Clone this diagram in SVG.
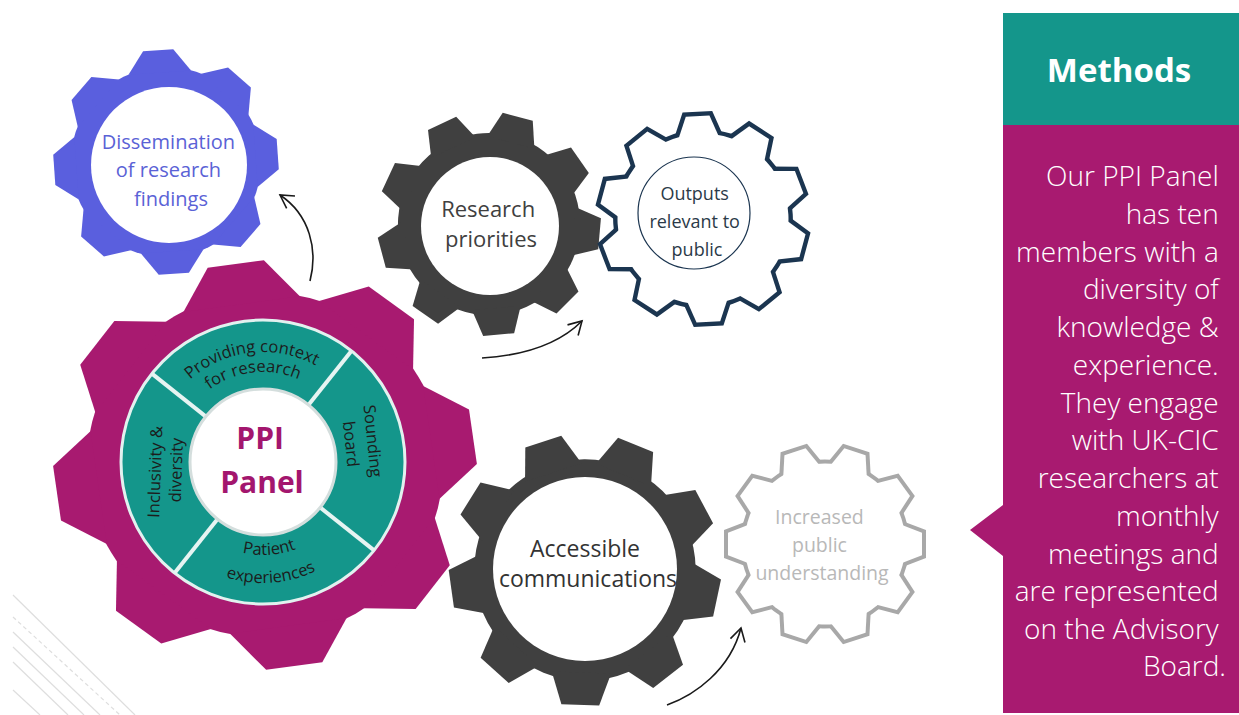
<svg xmlns="http://www.w3.org/2000/svg" width="1239" height="715" viewBox="0 0 1239 715">
<style>
  .f { font-family: "Open Sans", "Noto Sans", "DejaVu Sans", sans-serif; }
  .mid { text-anchor: middle; }
  .seg { font-size: 16.5px; fill: #1c1c1c; }
  .panel { font-size: 28px; fill: #ffffff; text-anchor: end; font-weight: 300; }
  .arrow { fill: none; stroke: #1a1a1a; stroke-width: 1.6; marker-end: url(#ah); }
  .deco { stroke: #dedede; stroke-width: 1.2; fill: none; }
  .divider { stroke: #e6f4f2; stroke-width: 4; }
</style>
<defs>
  <polygon id="t8" points="-28,-80 -13.5,-100 13.5,-100 28,-80"/>
  <g id="gear8">
    <circle r="85"/>
    <use href="#t8"/>
    <use href="#t8" transform="rotate(45)"/>
    <use href="#t8" transform="rotate(90)"/>
    <use href="#t8" transform="rotate(135)"/>
    <use href="#t8" transform="rotate(180)"/>
    <use href="#t8" transform="rotate(225)"/>
    <use href="#t8" transform="rotate(270)"/>
    <use href="#t8" transform="rotate(315)"/>
  </g>
  <polygon id="t9" points="-22,-76 -14,-100 14,-100 22,-76"/>
  <g id="gear9">
    <circle r="82"/>
    <use href="#t9"/>
    <use href="#t9" transform="rotate(40)"/>
    <use href="#t9" transform="rotate(80)"/>
    <use href="#t9" transform="rotate(120)"/>
    <use href="#t9" transform="rotate(160)"/>
    <use href="#t9" transform="rotate(200)"/>
    <use href="#t9" transform="rotate(240)"/>
    <use href="#t9" transform="rotate(280)"/>
    <use href="#t9" transform="rotate(320)"/>
  </g>
  <polygon id="t10" points="-20,-78 -11.5,-100 11.5,-100 20,-78"/>
  <g id="gear10">
    <circle r="83"/>
    <use href="#t10"/>
    <use href="#t10" transform="rotate(36)"/>
    <use href="#t10" transform="rotate(72)"/>
    <use href="#t10" transform="rotate(108)"/>
    <use href="#t10" transform="rotate(144)"/>
    <use href="#t10" transform="rotate(180)"/>
    <use href="#t10" transform="rotate(216)"/>
    <use href="#t10" transform="rotate(252)"/>
    <use href="#t10" transform="rotate(288)"/>
    <use href="#t10" transform="rotate(324)"/>
  </g>
  <path id="arcTop1" d="M171.3,401.3 A110,110 0 0 1 338.7,382.2"/>
  <path id="arcTop2" d="M187.9,412.3 A90,90 0 0 1 325,396.7"/>
  <path id="arcBot1" d="M196.1,526.6 A93,93 0 0 0 338.2,516.7"/>
  <path id="arcBot2" d="M176,546.1 A121,121 0 0 0 360.9,533.1"/>
  <marker id="ah" viewBox="-15 -10 18 20" refX="0" refY="0" markerWidth="18" markerHeight="20" markerUnits="userSpaceOnUse" orient="auto">
    <path d="M-13,-7.5 L0,0 L-13,7.5" fill="none" stroke="#1a1a1a" stroke-width="1.6"/>
  </marker>
</defs>

<rect width="1239" height="715" fill="#ffffff"/>

<g id="decoration">
  <line class="deco" x1="13" y1="595" x2="135" y2="715"/>
  <line class="deco" x1="13" y1="617" x2="120" y2="715" stroke-dasharray="4 3"/>
  <line class="deco" x1="13" y1="632" x2="100" y2="715"/>
  <line class="deco" x1="13" y1="647" x2="84" y2="715"/>
  <line class="deco" x1="13" y1="662" x2="68" y2="715"/>
  <line class="deco" x1="13" y1="690" x2="40" y2="715"/>
</g>

<g id="node-dissemination">
  <use href="#gear8" transform="translate(166,162) rotate(-4) scale(1.12)" fill="#5a5fde"/>
  <circle cx="169" cy="165" r="78" fill="#ffffff"/>
  <text class="f mid" font-size="20" fill="#5a62d6">
    <tspan x="171" y="149">Dissemination</tspan>
    <tspan x="171" y="177">of research</tspan>
    <tspan x="171" y="206">findings</tspan>
  </text>
</g>

<g id="node-ppi-panel">
  <use href="#gear8" transform="translate(265,465) scale(2.1,2.03) rotate(-8)" fill="#a81a70"/>
  <circle cx="263" cy="462" r="142" fill="#14968b" stroke="#e2f1ef" stroke-width="3"/>
  <line class="divider" x1="308.4" y1="404.9" x2="351.4" y2="350.9"/>
  <line class="divider" x1="320.1" y1="507.4" x2="374.1" y2="550.4"/>
  <line class="divider" x1="217.6" y1="519.1" x2="174.6" y2="573.1"/>
  <line class="divider" x1="205.9" y1="416.6" x2="151.9" y2="373.6"/>
  <circle cx="263" cy="462" r="73" fill="#ffffff" stroke="#d4dedd" stroke-width="3"/>
  <text class="f mid" font-size="30" font-weight="bold" fill="#a3166e">
    <tspan x="264" y="449">PPI</tspan>
    <tspan x="262" y="493">Panel</tspan>
  </text>
  <text class="f seg"><textPath href="#arcTop1" startOffset="50%" text-anchor="middle">Providing context</textPath><textPath href="#arcTop2" startOffset="50%" text-anchor="middle">for research</textPath></text>
  <text class="f seg"><textPath href="#arcBot1" startOffset="50%" text-anchor="middle">Patient</textPath><textPath href="#arcBot2" startOffset="50%" text-anchor="middle">experiences</textPath></text>
  <text class="f seg mid" transform="translate(373,441) rotate(84)" dy="0.35em">Sounding</text>
  <text class="f seg mid" transform="translate(351,444) rotate(84)" dy="0.35em">board</text>
  <text class="f seg mid" transform="translate(155,472) rotate(-88)" dy="0.35em">Inclusivity &amp;</text>
  <text class="f seg mid" transform="translate(176,470) rotate(-88)" dy="0.35em">diversity</text>
</g>

<g id="node-research-priorities">
  <use href="#gear9" transform="translate(489,224) rotate(15) scale(1.11)" fill="#404040"/>
  <circle cx="490" cy="226" r="69" fill="#ffffff"/>
  <text class="f mid" font-size="22" fill="#404040">
    <tspan x="491" y="217">Research</tspan>
    <tspan x="491" y="247">priorities</tspan>
  </text>
</g>

<g id="node-outputs">
  <g transform="translate(703,219) rotate(-3) scale(1.03)">
    <use href="#gear10" fill="none" stroke="#1b3550" stroke-width="8.5"/>
    <use href="#gear10" fill="#ffffff"/>
  </g>
  <circle cx="694" cy="213" r="56" fill="none" stroke="#1b3550" stroke-width="1.2"/>
  <text class="f mid" font-size="18" fill="#2b3a48">
    <tspan x="697" y="200">Outputs</tspan>
    <tspan x="697" y="228">relevant to</tspan>
    <tspan x="697" y="256">public</tspan>
  </text>
</g>

<g id="node-accessible">
  <use href="#gear9" transform="translate(585,570) rotate(22) scale(1.35)" fill="#404040"/>
  <circle cx="585" cy="569" r="92" fill="#ffffff"/>
  <text class="f mid" font-size="23" fill="#333333">
    <tspan x="588" y="557">Accessible</tspan>
    <tspan x="588" y="587">communications</tspan>
  </text>
</g>

<g id="node-increased">
  <g transform="translate(825,544) rotate(-18) scale(0.97)">
    <use href="#gear10" fill="none" stroke="#a8a8a8" stroke-width="8.2"/>
    <use href="#gear10" fill="#ffffff"/>
  </g>
  <text class="f mid" font-size="19.5" fill="#b8b8b8">
    <tspan x="822" y="524">Increased</tspan>
    <tspan x="822" y="552">public</tspan>
    <tspan x="822" y="580">understanding</tspan>
  </text>
</g>

<g id="connectors">
  <path class="arrow" d="M310,281 C318,250 310,215 280,195"/>
  <path class="arrow" d="M482,358 C515,356 555,348 582,321"/>
  <path class="arrow" d="M667,705 C695,695 730,670 741,628"/>
</g>

<g id="node-methods">
  <rect x="1003" y="13" width="236" height="112" fill="#14968b"/>
  <path d="M1003,125 H1239 V713 H1003 V556 L970,530 L1003,505 Z" fill="#a81a70"/>
  <text class="f mid" x="1119" y="82" font-size="33" font-weight="bold" fill="#ffffff">Methods</text>
  <text class="f panel">
    <tspan x="1226" y="186">Our PPI Panel</tspan>
    <tspan x="1226" y="224">has ten</tspan>
    <tspan x="1226" y="262">members with a</tspan>
    <tspan x="1226" y="299">diversity of</tspan>
    <tspan x="1226" y="337">knowledge &amp;</tspan>
    <tspan x="1226" y="375">experience.</tspan>
    <tspan x="1226" y="413">They engage</tspan>
    <tspan x="1226" y="450">with UK-CIC</tspan>
    <tspan x="1226" y="488">researchers at</tspan>
    <tspan x="1226" y="526">monthly</tspan>
    <tspan x="1226" y="564">meetings and</tspan>
    <tspan x="1226" y="601">are represented</tspan>
    <tspan x="1226" y="639">on the Advisory</tspan>
    <tspan x="1226" y="676">Board.</tspan>
  </text>
</g>
</svg>
